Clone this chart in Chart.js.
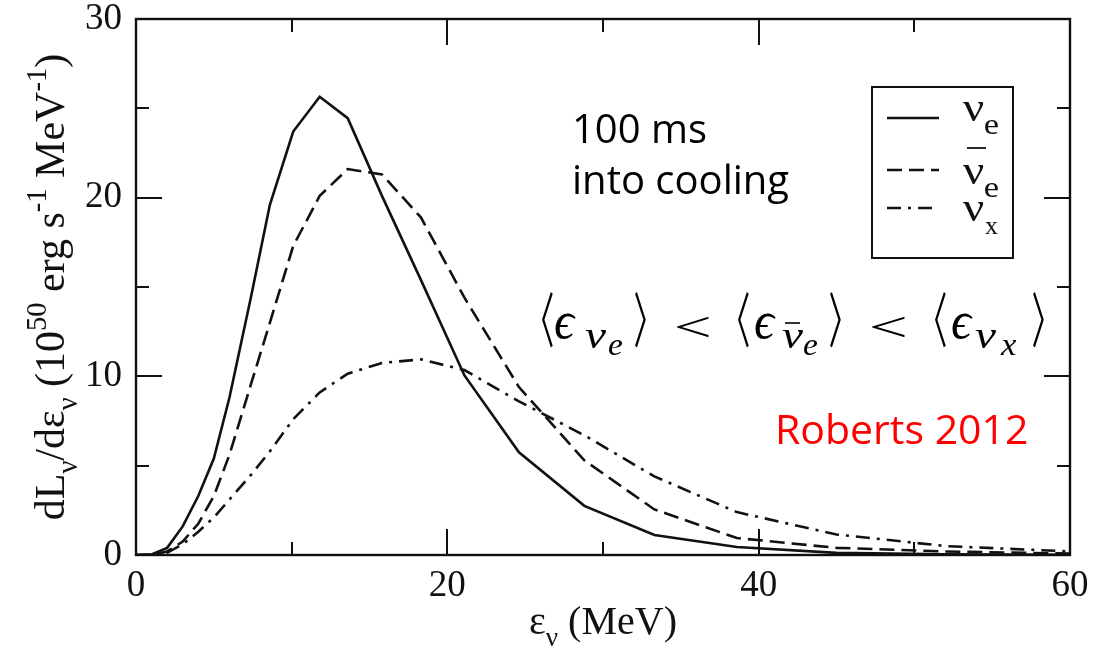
<!DOCTYPE html>
<html>
<head>
<meta charset="utf-8">
<script src="https://cdn.jsdelivr.net/npm/chart.js@4.4.0/dist/chart.umd.min.js"></script>
<style>
  html, body { margin: 0; padding: 0; background: #fff; }
  #wrap { width: 1095px; height: 649px; }
</style>
</head>
<body>
<div id="wrap"><canvas id="spectra" width="1095" height="649"></canvas></div>
<script>
// Neutrino spectra 100 ms into cooling (Roberts 2012)

// neutrino energy (MeV)
const energies = [0, 1, 2, 3, 4, 5, 6, 7.4, 8.6, 10.1, 11.8, 13.6, 15.8, 18.3, 21.1, 24.6, 28.8, 33.3, 38.6, 45, 52, 60];

// dL/de in 10^50 erg s^-1 MeV^-1
const nuE    = [0, 0.03, 0.4, 1.6, 3.3, 5.4, 8.8, 14.5, 19.6, 23.7, 25.65, 24.45, 20.1, 15.4, 10.05, 5.75, 2.75, 1.12, 0.45, 0.12, 0.04, 0.01];
const nuEbar = [0, 0.01, 0.2, 0.75, 1.75, 3.3, 5.6, 9.6, 13.0, 17.3, 20.1, 21.6, 21.3, 18.9, 14.4, 9.4, 5.3, 2.55, 0.95, 0.4, 0.2, 0.08];
const nuX    = [0, 0.01, 0.12, 0.6, 1.3, 2.1, 3.1, 4.5, 5.8, 7.6, 9.1, 10.15, 10.75, 10.95, 10.35, 8.6, 6.7, 4.4, 2.4, 1.15, 0.5, 0.2];

// axis ticks
const xTickLabels = [0, 20, 40, 60];
const yTickLabels = [0, 10, 20, 30];
const xMinorStep = 10;
const yMinorStep = 5;

// legend entries: [letter, subscript, bar over letter]
const legendLabels = [['ν', 'e', false], ['ν', 'e', true], ['ν', 'x', false]];

const INK = '#111';
const SERIF = '"Liberation Serif", "Times New Roman", serif';

function toPoints(ys) {
  return energies.map((e, i) => ({ x: e, y: ys[i] }));
}

// draw one glyph so that its ink box fills [left,right] x [top,bottom]
function fitGlyph(ctx, txt, font, left, right, top, bottom) {
  ctx.save();
  ctx.font = font.replace('#', '100px');
  let m = ctx.measureText(txt);
  const h = m.actualBoundingBoxAscent + m.actualBoundingBoxDescent;
  const size = 100 * (bottom - top) / h;
  ctx.font = font.replace('#', size.toFixed(2) + 'px');
  m = ctx.measureText(txt);
  const w = m.actualBoundingBoxLeft + m.actualBoundingBoxRight;
  const sx = right != null ? (right - left) / w : 1;
  ctx.textAlign = 'left';
  ctx.textBaseline = 'alphabetic';
  ctx.translate(left, top + m.actualBoundingBoxAscent);
  ctx.scale(sx, 1);
  ctx.fillText(txt, m.actualBoundingBoxLeft, 0);
  ctx.restore();
}

// text with sub/superscripts, pieces = [text, kind]
function drawRich(ctx, pieces, size, x, y, align) {
  const parts = pieces.map(([t, kind]) => {
    const s = kind ? size * 0.68 : size;
    ctx.font = s + 'px ' + SERIF;
    return { t, s, shift: kind === 'sup' ? -size * 0.42 : kind === 'sub' ? size * 0.3 : 0, w: ctx.measureText(t).width };
  });
  const total = parts.reduce((a, p) => a + p.w, 0);
  let cx = align === 'center' ? x - total / 2 : x;
  ctx.textAlign = 'left';
  ctx.textBaseline = 'alphabetic';
  parts.forEach(p => {
    ctx.font = p.s + 'px ' + SERIF;
    ctx.fillText(p.t, cx, y + p.shift);
    cx += p.w;
  });
}

const framePlugin = {
  id: 'frame',
  afterDraw(chart) {
    const ctx = chart.ctx;
    const ca = chart.chartArea;
    const xs = chart.scales.x;
    const ys = chart.scales.y;
    ctx.save();
    ctx.strokeStyle = INK;
    ctx.fillStyle = INK;
    ctx.lineWidth = 2.4;
    ctx.setLineDash([]);
    ctx.strokeRect(ca.left, ca.top, ca.right - ca.left, ca.bottom - ca.top);

    // inward ticks on all four sides
    ctx.lineWidth = 2;
    ctx.beginPath();
    for (let v = xs.min + xMinorStep; v < xs.max; v += xMinorStep) {
      const px = Math.round(xs.getPixelForValue(v));
      const len = xTickLabels.includes(v) ? 26 : 13;
      ctx.moveTo(px, ca.bottom); ctx.lineTo(px, ca.bottom - len);
      ctx.moveTo(px, ca.top); ctx.lineTo(px, ca.top + len);
    }
    for (let v = ys.min + yMinorStep; v < ys.max; v += yMinorStep) {
      const py = Math.round(ys.getPixelForValue(v));
      const len = yTickLabels.includes(v) ? 26 : 13;
      ctx.moveTo(ca.left, py); ctx.lineTo(ca.left + len, py);
      ctx.moveTo(ca.right, py); ctx.lineTo(ca.right - len, py);
    }
    ctx.stroke();

    // axis titles
    drawRich(ctx, [['ε', ''], ['ν', 'sub'], [' (MeV)', '']], 40, (ca.left + ca.right) / 2, 634, 'center');
    ctx.save();
    ctx.translate(64, (ca.top + ca.bottom) / 2);
    ctx.rotate(-Math.PI / 2);
    drawRich(ctx, [['dL', ''], ['ν', 'sub'], ['/dε', ''], ['ν', 'sub'], [' (10', ''], ['50', 'sup'],
      [' erg s', ''], ['-1', 'sup'], [' MeV', ''], ['-1', 'sup'], [')', '']], 42, 0, 0, 'center');
    ctx.restore();

    // legend box
    ctx.lineWidth = 2;
    ctx.strokeRect(872, 87, 141, 171);
    const rows = [118, 170, 208];
    const labelTops = [102, 165, 202];
    chart.data.datasets.forEach((ds, i) => {
      ctx.save();
      ctx.lineWidth = ds.borderWidth;
      ctx.setLineDash(ds.borderDash || []);
      ctx.beginPath();
      ctx.moveTo(887, rows[i]);
      ctx.lineTo(939, rows[i]);
      ctx.stroke();
      ctx.restore();
      const [nu, sub, bar] = legendLabels[i];
      const top = labelTops[i];
      fitGlyph(ctx, nu, '# ' + SERIF, 963, 984, top, top + 20);
      fitGlyph(ctx, sub, '# ' + SERIF, 985, 998, top + (sub === 'x' ? 20 : 18), top + 32);
      if (bar) {
        ctx.lineWidth = 1.8;
        ctx.beginPath();
        ctx.moveTo(967, 148);
        ctx.lineTo(986, 148);
        ctx.stroke();
      }
    });

    // notes
    ctx.textAlign = 'left';
    ctx.textBaseline = 'alphabetic';
    ctx.font = '40px "Open Sans", "Noto Sans", sans-serif';
    ctx.fillStyle = '#000';
    ctx.fillText('100 ms', 572, 143);
    ctx.fillText('into cooling', 572, 194);
    ctx.font = '41px "Open Sans", "Noto Sans", sans-serif';
    ctx.fillStyle = '#ff0000';
    ctx.fillText('Roberts 2012', 775, 444);

    // <e_nu_e> < <e_nubar_e> < <e_nu_x>
    ctx.fillStyle = '#000';
    ctx.strokeStyle = '#000';
    const ang = '# "Noto Sans CJK JP", "DejaVu Sans", sans-serif';
    const eps = 'italic # ' + SERIF;
    const it = 'italic # ' + SERIF;
    const rel = '# ' + SERIF;
    // [left bracket, epsilon, nu, subscript, right bracket]
    const groups = [
      [542, 555, 585, 608, 'e', false, 635],
      [738, 755, 782, 803, 'e', true, 830],
      [935, 952, 975, 1000, 'x', false, 1033]
    ];
    groups.forEach(([l, ex, nx, sx, sub, bar, r]) => {
      fitGlyph(ctx, '〈', ang, l, l + 11, 292, 348);
      fitGlyph(ctx, 'ϵ', eps, ex, ex + 21, 313, 338);
      fitGlyph(ctx, 'ν', it, nx, nx + 21, 330, 348);
      fitGlyph(ctx, sub, it, sx, sx + (sub === 'x' ? 17 : 15), 340, 355);
      fitGlyph(ctx, '〉', ang, r, r + 11, 292, 348);
      if (bar) {
        ctx.lineWidth = 1.6;
        ctx.beginPath();
        ctx.moveTo(nx + 3, 323);
        ctx.lineTo(nx + 18, 323);
        ctx.stroke();
      }
    });
    fitGlyph(ctx, '<', rel, 677, 710, 316, 337);
    fitGlyph(ctx, '<', rel, 872, 906, 316, 337);
    ctx.restore();
  }
};

const tickFont = { family: SERIF, size: 37 };

new Chart(document.getElementById('spectra'), {
  type: 'line',
  data: {
    datasets: [
      { label: 'nu_e', data: toPoints(nuE), borderColor: INK, borderWidth: 2.6, borderDash: [], pointRadius: 0, tension: 0, fill: false },
      { label: 'nubar_e', data: toPoints(nuEbar), borderColor: INK, borderWidth: 2.6, borderDash: [15, 7], pointRadius: 0, tension: 0, fill: false },
      { label: 'nu_x', data: toPoints(nuX), borderColor: INK, borderWidth: 2.6, borderDash: [14, 7, 3, 7], pointRadius: 0, tension: 0, fill: false }
    ]
  },
  options: {
    responsive: false,
    animation: false,
    devicePixelRatio: 1,
    layout: { padding: { top: 19, right: 25, bottom: 0, left: 0 } },
    plugins: { legend: { display: false }, tooltip: { enabled: false } },
    scales: {
      x: {
        type: 'linear', min: 0, max: 60,
        grid: { display: false, drawTicks: false },
        border: { display: false },
        ticks: { stepSize: 20, padding: 9, font: tickFont, color: INK, maxRotation: 0 },
        afterFit(s) { s.height = 94; s.paddingLeft = 0; s.paddingRight = 0; }
      },
      y: {
        type: 'linear', min: 0, max: 30,
        grid: { display: false, drawTicks: false },
        border: { display: false },
        ticks: { stepSize: 10, padding: 14, font: tickFont, color: INK },
        afterFit(s) { s.width = 136; s.paddingTop = 0; s.paddingBottom = 0; }
      }
    }
  },
  plugins: [framePlugin]
});
</script>
</body>
</html>
